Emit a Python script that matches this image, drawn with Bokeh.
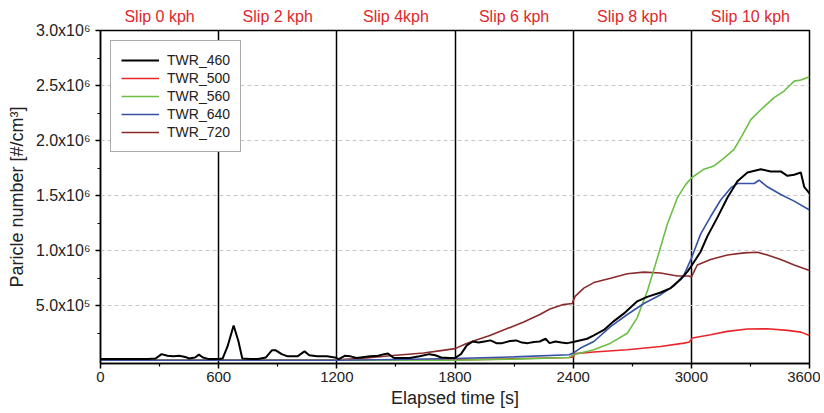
from bokeh.plotting import figure
from bokeh.models import FixedTicker, LinearAxis, Legend, LegendItem, Range1d
from bokeh.embed import file_html
from bokeh.resources import INLINE

# ---- data ----
t_460 = [0, 60, 120, 180, 240, 280, 310, 340, 370, 400, 430, 450, 480, 500, 520, 550, 600, 620, 645, 676, 700, 720,
         760, 800, 840, 870, 890, 920, 950, 1000, 1036, 1060, 1100, 1150, 1190, 1210, 1240, 1270, 1300, 1340, 1370,
         1410, 1440, 1460, 1490, 1530, 1570, 1620, 1670, 1700, 1730, 1770, 1800, 1830, 1860, 1890, 1920, 1950, 1980,
         2010, 2040, 2080, 2110, 2140, 2170, 2200, 2230, 2260, 2280, 2310, 2340, 2370, 2400, 2471, 2505, 2556, 2607,
         2658, 2725, 2776, 2844, 2895, 2946, 2980, 3000, 3047, 3081, 3132, 3183, 3234, 3285, 3353, 3403, 3454, 3488,
         3522, 3556, 3573, 3600]
v_460 = [1.5e4, 1.5e4, 1.5e4, 1.5e4, 1.5e4, 2e4, 6e4, 4.5e4, 4e4, 4.5e4, 3.5e4, 2e4, 3e4, 5.5e4, 3e4, 1.5e4, 1.5e4,
         2e4, 1.3e5, 3.2e5, 1.8e5, 2e4, 1.5e4, 1.5e4, 3e4, 9.5e4, 9.5e4, 6e4, 4e4, 4e4, 8.5e4, 5e4, 4e4, 4e4, 3e4,
         1.5e4, 4.5e4, 4e4, 2.5e4, 3.5e4, 4e4, 4.5e4, 6e4, 6.5e4, 2.5e4, 2.5e4, 2.5e4, 4e4, 6e4, 5e4, 3e4, 2.5e4,
         2.5e4, 6e4, 1.4e5, 1.75e5, 1.65e5, 1.75e5, 1.85e5, 1.6e5, 1.6e5, 1.8e5, 1.85e5, 1.65e5, 1.6e5, 1.7e5,
         1.75e5, 2.0e5, 1.6e5, 1.75e5, 1.65e5, 1.6e5, 1.7e5, 2.0e5, 2.3e5, 2.8e5, 3.6e5, 4.3e5, 5.4e5, 5.8e5, 6.2e5,
         6.6e5, 7.4e5, 8.1e5, 8.6e5, 9.9e5, 1.13e6, 1.30e6, 1.48e6, 1.63e6, 1.71e6, 1.74e6, 1.72e6, 1.72e6, 1.68e6,
         1.69e6, 1.71e6, 1.58e6, 1.52e6]

t_500 = [0, 1800, 2100, 2380, 2400, 2410, 2505, 2675, 2844, 2963, 2990, 3005, 3098, 3183, 3285, 3386, 3488, 3556, 3600]
v_500 = [5e3, 8e3, 1.8e4, 3e4, 3.5e4, 6.5e4, 7.9e4, 1.0e5, 1.3e5, 1.6e5, 1.7e5, 2.06e5, 2.36e5, 2.67e5, 2.88e5,
         2.9e5, 2.76e5, 2.6e5, 2.3e5]

t_560 = [0, 1800, 2100, 2380, 2400, 2505, 2590, 2675, 2725, 2776, 2827, 2878, 2929, 2971, 3000, 3064, 3115, 3166,
         3217, 3259, 3302, 3353, 3420, 3471, 3522, 3556, 3600]
v_560 = [5e3, 5e3, 1.5e4, 3e4, 5.5e4, 1.0e5, 1.6e5, 2.5e5, 3.9e5, 6.3e5, 9.3e5, 1.24e6, 1.48e6, 1.6e6, 1.66e6,
         1.74e6, 1.77e6, 1.84e6, 1.92e6, 2.05e6, 2.19e6, 2.28e6, 2.39e6, 2.45e6, 2.54e6, 2.55e6, 2.58e6]

t_640 = [0, 1200, 1500, 1800, 2100, 2380, 2400, 2437, 2505, 2590, 2675, 2759, 2844, 2912, 2963, 3000, 3047, 3098,
         3149, 3200, 3234, 3319, 3344, 3386, 3454, 3522, 3600]
v_640 = [5e3, 5e3, 1.2e4, 2e4, 3.5e4, 5.5e4, 7e4, 1.15e5, 1.75e5, 3.1e5, 4.2e5, 5.2e5, 6.0e5, 6.8e5, 7.8e5, 9.3e5,
         1.15e6, 1.31e6, 1.46e6, 1.57e6, 1.61e6, 1.61e6, 1.64e6, 1.58e6, 1.51e6, 1.45e6, 1.37e6]

t_720 = [0, 1200, 1350, 1470, 1640, 1720, 1800, 1850, 1893, 1977, 2062, 2146, 2231, 2282, 2350, 2395, 2410, 2454,
         2505, 2590, 2675, 2759, 2844, 2929, 2988, 3000, 3030, 3098, 3183, 3268, 3336, 3386, 3454, 3522, 3600]
v_720 = [5e3, 8e3, 2.5e4, 4.5e4, 7e4, 9e4, 1.1e5, 1.5e5, 1.8e5, 2.3e5, 2.9e5, 3.5e5, 4.2e5, 4.7e5, 5.1e5, 5.2e5,
         5.85e5, 6.6e5, 7.1e5, 7.5e5, 7.9e5, 8.05e5, 7.97e5, 7.7e5, 7.7e5, 7.6e5, 8.7e5, 9.2e5, 9.6e5, 9.8e5,
         9.85e5, 9.6e5, 9.2e5, 8.7e5, 8.2e5]

series_names = ["TWR_460", "TWR_500", "TWR_560", "TWR_640", "TWR_720"]
series_colors = ["#000000", "#e8262a", "#6cbf45", "#3552a5", "#8b2a2a"]

x_ticks = [0, 600, 1200, 1800, 2400, 3000, 3600]
x_minor = [300, 900, 1500, 2100, 2700, 3300]
y_ticks = [500000, 1000000, 1500000, 2000000, 2500000, 3000000]
y_tick_labels = ["5.0x10\u2075", "1.0x10\u2076", "1.5x10\u2076", "2.0x10\u2076", "2.5x10\u2076", "3.0x10\u2076"]
y_minor = [250000, 750000, 1250000, 1750000, 2250000, 2750000]
slip_pos = [300, 900, 1500, 2100, 2700, 3300]
slip_labels = ["Slip 0 kph", "Slip 2 kph", "Slip 4kph", "Slip 6 kph", "Slip 8 kph", "Slip 10 kph"]
section_bounds = [600, 1200, 1800, 2400, 3000]

FONT = "Liberation Sans"

p = figure(width=820, height=410, x_range=Range1d(0, 3600), y_range=Range1d(-2.5e4, 3.0e6),
           output_backend="svg", toolbar_location=None,
           min_border_left=100, min_border_right=11, min_border_top=30, min_border_bottom=46)
p.title.visible = False
p.outline_line_color = "black"
p.outline_line_width = 1.5
p.outline_line_alpha = 1.0
p.background_fill_color = "white"
p.border_fill_color = "white"

# axes
xa = p.xaxis[0]
xa.ticker = FixedTicker(ticks=x_ticks, minor_ticks=x_minor)
xa.axis_label = "Elapsed time [s]"
ya = p.yaxis[0]
ya.ticker = FixedTicker(ticks=y_ticks, minor_ticks=y_minor)
ya.major_label_overrides = dict(zip(y_ticks, y_tick_labels))
ya.axis_label = "Paricle number [#/cm\u00b3]"
for ax in (xa, ya):
    ax.axis_line_color = "black"
    ax.axis_line_width = 1.5
    ax.major_tick_line_color = "black"
    ax.major_tick_line_width = 1.5
    ax.minor_tick_line_color = "black"
    ax.minor_tick_line_width = 1.2
    ax.major_tick_in = 0
    ax.major_tick_out = 5
    ax.minor_tick_in = 0
    ax.minor_tick_out = 3
    ax.major_label_text_font = FONT
    ax.axis_label_text_font = FONT
    ax.axis_label_text_font_style = "normal"
    ax.axis_label_text_font_size = "18px"
    ax.major_label_text_color = "#222222"
    ax.axis_label_text_color = "#222222"
xa.major_label_text_font_size = "15px"
ya.major_label_text_font_size = "16px"
xa.major_label_standoff = 3
xa.axis_label_standoff = 3
ya.major_label_standoff = 5
ya.axis_label_standoff = 6

top = LinearAxis(ticker=FixedTicker(ticks=slip_pos, minor_ticks=[]),
                 major_label_overrides=dict(zip(slip_pos, slip_labels)),
                 axis_line_color=None, major_tick_line_color=None, minor_tick_line_color=None,
                 major_tick_in=0, major_tick_out=0, minor_tick_in=0, minor_tick_out=0,
                 major_label_text_color="#e0282c", major_label_text_font=FONT,
                 major_label_text_font_size="16px", major_label_standoff=6)
p.add_layout(top, "above")

# grids
p.xgrid.ticker = FixedTicker(ticks=section_bounds)
p.xgrid.grid_line_color = "black"
p.xgrid.grid_line_width = 1.5
p.ygrid.ticker = FixedTicker(ticks=y_ticks[:-1])
p.ygrid.grid_line_color = "#c8c8c8"
p.ygrid.grid_line_dash = "4 3"
p.ygrid.grid_line_width = 1

# lines
data = {
    "TWR_460": (t_460, v_460),
    "TWR_500": (t_500, v_500),
    "TWR_560": (t_560, v_560),
    "TWR_640": (t_640, v_640),
    "TWR_720": (t_720, v_720),
}
renderers = {}
for name in ["TWR_720", "TWR_500", "TWR_560", "TWR_640", "TWR_460"]:
    i = series_names.index(name)
    t, v = data[name]
    renderers[name] = p.line(t, v, line_color=series_colors[i], line_width=2.0 if name == "TWR_460" else 1.6)

legend = Legend(items=[LegendItem(label=n, renderers=[renderers[n]]) for n in series_names],
                location="top_left")
legend.margin = 10
legend.padding = 10
legend.spacing = 0
legend.label_height = 18
legend.glyph_height = 18
legend.glyph_width = 38
legend.label_standoff = 8
legend.label_text_font = FONT
legend.label_text_font_size = "14px"
legend.label_text_color = "#222222"
legend.border_line_color = "#555555"
legend.border_line_width = 1
legend.background_fill_alpha = 1.0
p.add_layout(legend)

open("out.html", "w").write(file_html(p, INLINE))
